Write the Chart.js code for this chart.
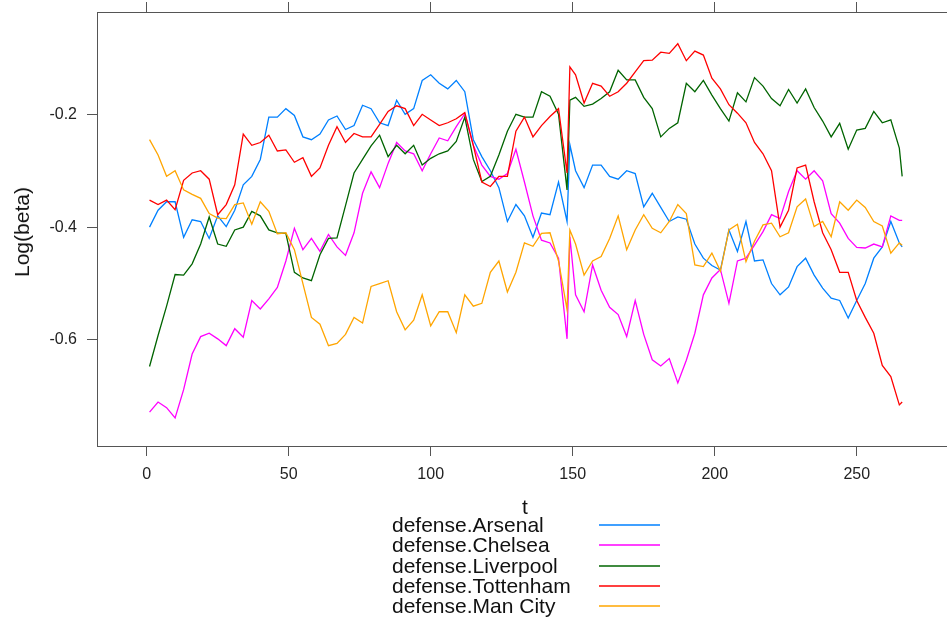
<!DOCTYPE html>
<html>
<head>
<meta charset="utf-8">
<title>defense</title>
<script src="https://cdn.jsdelivr.net/npm/chart.js@4.4.1/dist/chart.umd.min.js"></script>
<style>
    html, body { margin: 0; padding: 0; background: #fff; }
    #wrap { position: relative; width: 947px; height: 626px; overflow: hidden; font-family: "Liberation Sans", Arial, sans-serif; color: #111; }
    #plot { position: absolute; left: 0; top: 0; width: 970px; height: 626px; }
    .axis-title { position: absolute; font-size: 21px; line-height: 24px; white-space: nowrap; }
    #ylab { left: 22px; top: 232px; transform: translate(-50%, -50%) rotate(-90deg); }
    #xlab { left: 525px; top: 507px; transform: translate(-50%, -50%); }
    .key-row { position: absolute; left: 392px; width: 290px; height: 24px; }
    .key-text { position: absolute; left: 0; top: 0; font-size: 21px; line-height: 24px; white-space: nowrap; }
    .key-line { position: absolute; left: 207px; top: 11px; width: 61px; height: 2px; opacity: 0.75; }
</style>
</head>
<body>
<div id="wrap">
    <canvas id="plot" width="970" height="626"></canvas>
    <div id="ylab" class="axis-title">Log(beta)</div>
    <div id="xlab" class="axis-title">t</div>
    <div id="key"></div>
</div>
<script>
const tValues = [
    1, 4, 7, 10, 13, 16, 19, 22, 25, 28,
    31, 34, 37, 40, 43, 46, 49, 52, 55, 58,
    61, 64, 67, 70, 73, 76, 79, 82, 85, 88,
    91, 94, 97, 100, 103, 106, 109, 112, 115, 118,
    121, 124, 127, 130, 133, 136, 139, 142, 145, 148,
    149, 151, 154, 157, 160, 163, 166, 169, 172, 175,
    178, 181, 184, 187, 190, 193, 196, 199, 202, 205,
    208, 211, 214, 217, 220, 223, 226, 229, 232, 235,
    238, 241, 244, 247, 250, 253, 256, 259, 262, 265,
    266
];

const seriesNames = ['defense.Arsenal', 'defense.Chelsea', 'defense.Liverpool', 'defense.Tottenham', 'defense.Man City'];
const seriesColors = ['#0080ff', '#ff00ff', '#006400', '#ff0000', '#ffa500'];

const arsenal = [
    -0.400, -0.370, -0.355, -0.355, -0.418, -0.387, -0.390, -0.420, -0.380, -0.399,
    -0.370, -0.325, -0.310, -0.280, -0.205, -0.205, -0.190, -0.202, -0.240, -0.245,
    -0.235, -0.210, -0.203, -0.227, -0.220, -0.184, -0.190, -0.215, -0.220, -0.175,
    -0.200, -0.190, -0.140, -0.130, -0.145, -0.155, -0.140, -0.160, -0.245, -0.275,
    -0.300, -0.330, -0.390, -0.360, -0.380, -0.418, -0.375, -0.378, -0.320, -0.390,
    -0.254, -0.300, -0.330, -0.290, -0.290, -0.310, -0.315, -0.300, -0.305, -0.364,
    -0.340, -0.365, -0.390, -0.382, -0.386, -0.430, -0.455, -0.468, -0.476, -0.405,
    -0.443, -0.390, -0.460, -0.458, -0.500, -0.520, -0.506, -0.470, -0.455, -0.485,
    -0.508, -0.526, -0.530, -0.561, -0.530, -0.500, -0.455, -0.435, -0.390, -0.428,
    -0.435
];

const chelsea = [
    -0.728, -0.710, -0.720, -0.738, -0.688, -0.625, -0.594, -0.588, -0.598, -0.610,
    -0.580, -0.595, -0.530, -0.545, -0.527, -0.507, -0.460, -0.402, -0.440, -0.420,
    -0.443, -0.413, -0.435, -0.450, -0.410, -0.340, -0.302, -0.330, -0.287, -0.250,
    -0.265, -0.270, -0.300, -0.270, -0.242, -0.247, -0.222, -0.199, -0.255, -0.290,
    -0.310, -0.315, -0.305, -0.262, -0.320, -0.380, -0.423, -0.428, -0.455, -0.598,
    -0.417, -0.520, -0.550, -0.467, -0.512, -0.542, -0.555, -0.594, -0.530, -0.590,
    -0.635, -0.646, -0.633, -0.676, -0.636, -0.588, -0.520, -0.490, -0.475, -0.535,
    -0.460, -0.455, -0.432, -0.408, -0.378, -0.385, -0.337, -0.300, -0.315, -0.300,
    -0.318, -0.376, -0.393, -0.420, -0.436, -0.437, -0.430, -0.435, -0.380, -0.388,
    -0.388
];

const liverpool = [
    -0.647, -0.592, -0.540, -0.484, -0.485, -0.465, -0.430, -0.382, -0.430, -0.434,
    -0.405, -0.400, -0.372, -0.380, -0.405, -0.410, -0.411, -0.480, -0.490, -0.495,
    -0.449, -0.420, -0.419, -0.362, -0.304, -0.280, -0.256, -0.237, -0.275, -0.255,
    -0.270, -0.255, -0.290, -0.278, -0.270, -0.265, -0.248, -0.205, -0.280, -0.319,
    -0.310, -0.272, -0.230, -0.200, -0.205, -0.205, -0.160, -0.168, -0.200, -0.334,
    -0.175, -0.170, -0.186, -0.182, -0.172, -0.160, -0.122, -0.139, -0.139, -0.170,
    -0.190, -0.240, -0.225, -0.215, -0.145, -0.160, -0.140, -0.166, -0.190, -0.212,
    -0.162, -0.178, -0.135, -0.150, -0.172, -0.185, -0.156, -0.180, -0.155, -0.188,
    -0.212, -0.240, -0.216, -0.262, -0.228, -0.225, -0.195, -0.215, -0.210, -0.260,
    -0.310
];

const tottenham = [
    -0.352, -0.360, -0.352, -0.369, -0.317, -0.304, -0.300, -0.315, -0.378, -0.360,
    -0.325, -0.235, -0.255, -0.250, -0.237, -0.265, -0.263, -0.285, -0.277, -0.310,
    -0.295, -0.255, -0.222, -0.250, -0.234, -0.240, -0.240, -0.218, -0.195, -0.185,
    -0.190, -0.220, -0.200, -0.210, -0.220, -0.215, -0.208, -0.197, -0.255, -0.320,
    -0.328, -0.310, -0.310, -0.230, -0.205, -0.240, -0.220, -0.204, -0.190, -0.304,
    -0.116, -0.130, -0.180, -0.145, -0.150, -0.168, -0.160, -0.145, -0.125, -0.105,
    -0.104, -0.090, -0.092, -0.075, -0.105, -0.088, -0.095, -0.136, -0.155, -0.183,
    -0.198, -0.215, -0.250, -0.270, -0.300, -0.400, -0.370, -0.295, -0.290, -0.355,
    -0.410, -0.440, -0.480, -0.480, -0.530, -0.560, -0.588, -0.645, -0.665, -0.715,
    -0.710
];

const manCity = [
    -0.245, -0.272, -0.310, -0.300, -0.334, -0.342, -0.349, -0.376, -0.384, -0.385,
    -0.360, -0.357, -0.395, -0.355, -0.372, -0.412, -0.410, -0.440, -0.500, -0.560,
    -0.572, -0.610, -0.606, -0.590, -0.560, -0.570, -0.505, -0.500, -0.495, -0.550,
    -0.582, -0.565, -0.520, -0.575, -0.550, -0.550, -0.587, -0.520, -0.540, -0.535,
    -0.480, -0.460, -0.515, -0.480, -0.428, -0.434, -0.411, -0.410, -0.460, -0.546,
    -0.405, -0.430, -0.485, -0.460, -0.452, -0.420, -0.380, -0.440, -0.405, -0.378,
    -0.402, -0.410, -0.390, -0.360, -0.376, -0.467, -0.470, -0.446, -0.478, -0.405,
    -0.395, -0.461, -0.425, -0.396, -0.393, -0.417, -0.410, -0.364, -0.350, -0.399,
    -0.390, -0.417, -0.355, -0.370, -0.352, -0.365, -0.390, -0.398, -0.446, -0.428,
    -0.432
];

const seriesValues = [arsenal, chelsea, liverpool, tottenham, manCity];

const xTicks = [0, 50, 100, 150, 200, 250];
const yTicks = [-0.6, -0.4, -0.2];

const fontFamily = '"Liberation Sans", Arial, sans-serif';

// box round the panel, lattice style
const panelFrame = {
    id: 'panelFrame',
    afterDatasetsDraw(chart) {
        const { ctx, chartArea: a } = chart;
        ctx.save();
        ctx.strokeStyle = '#555';
        ctx.lineWidth = 1;
        ctx.strokeRect(a.left + 0.5, a.top + 0.5, a.right - a.left, a.bottom - a.top);
        ctx.restore();
    }
};

const tickMarks = { drawOnChartArea: false, drawTicks: true, tickLength: 10, color: '#555', lineWidth: 1 };
const tickFont = { family: fontFamily, size: 16 };

// fixed box sizes, and no label overhang padding, so the panel sits where we want it
const fixSize = (scale, w, h) => {
    if (w !== null) scale.width = w;
    if (h !== null) scale.height = h;
    scale.paddingTop = 0;
    scale.paddingBottom = 0;
    scale.paddingLeft = 0;
    scale.paddingRight = 0;
};

const renderKey = () => {
    const keyEl = document.getElementById('key');
    keyEl.innerHTML = seriesNames.map((name, i) => `
        <div class="key-row" style="top:${Math.round(513 + i * 20.25)}px">
            <span class="key-text">${name}</span>
            <span class="key-line" style="background:${seriesColors[i]}"></span>
        </div>
    `).join('');
};

const renderChart = () => {
    const ctx = document.getElementById('plot').getContext('2d');
    const n = seriesNames.length;

    new Chart(ctx, {
        type: 'line',
        data: {
            datasets: seriesNames.map((name, i) => ({
                label: name,
                data: seriesValues[i].map((v, j) => ({ x: tValues[j], y: v })),
                borderColor: seriesColors[i],
                backgroundColor: seriesColors[i],
                borderWidth: 1.3,
                pointRadius: 0,
                tension: 0,
                fill: false,
                order: n - i,
                xAxisID: 'x',
                yAxisID: 'y'
            }))
        },
        options: {
            responsive: false,
            animation: false,
            devicePixelRatio: 1,
            layout: { padding: { left: 0, top: 0, right: 15, bottom: 0 } },
            plugins: {
                legend: { display: false },
                tooltip: { enabled: false }
            },
            scales: {
                x: {
                    type: 'linear',
                    position: 'bottom',
                    min: -17.5,
                    max: 284.6,
                    grid: tickMarks,
                    border: { display: false },
                    afterBuildTicks: (scale) => { scale.ticks = xTicks.map(v => ({ value: v })); },
                    afterFit: (scale) => fixSize(scale, null, 180),
                    ticks: {
                        font: tickFont,
                        color: '#222',
                        padding: 9,
                        maxRotation: 0,
                        autoSkip: false,
                        callback: (value) => String(value)
                    }
                },
                xTop: {
                    type: 'linear',
                    position: 'top',
                    min: -17.5,
                    max: 284.6,
                    grid: tickMarks,
                    border: { display: false },
                    afterBuildTicks: (scale) => { scale.ticks = xTicks.map(v => ({ value: v })); },
                    afterFit: (scale) => fixSize(scale, null, 12),
                    ticks: { display: false }
                },
                y: {
                    type: 'linear',
                    position: 'left',
                    min: -0.7879,
                    max: -0.0187,
                    grid: tickMarks,
                    border: { display: false },
                    afterBuildTicks: (scale) => { scale.ticks = yTicks.map(v => ({ value: v })); },
                    afterFit: (scale) => fixSize(scale, 97, null),
                    ticks: {
                        font: tickFont,
                        color: '#222',
                        padding: 10,
                        callback: (value) => value.toFixed(1)
                    }
                }
            }
        },
        plugins: [panelFrame]
    });
};

document.addEventListener('DOMContentLoaded', () => {
    renderKey();
    renderChart();
});
</script>
</body>
</html>
